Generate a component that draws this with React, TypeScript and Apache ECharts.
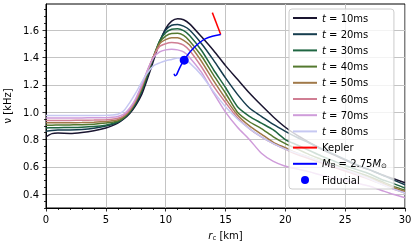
import React, { useEffect, useRef } from 'react';
import * as echarts from 'echarts';

const FONT = 'DejaVu Sans';

// radius grid (km) shared by the time snapshots
const R = [0, 0.5, 1, 2, 3, 4, 5, 5.5, 6, 6.5, 7, 7.5, 8, 8.5, 9, 9.5, 10, 10.5, 11, 11.5, 12, 13, 14, 15, 16, 17, 18, 19, 20, 21, 22, 23, 24, 25, 26, 27, 28, 29, 30];

const T10 = [0.82, 0.843, 0.847, 0.845, 0.852, 0.865, 0.885, 0.9, 0.92, 0.95, 0.99, 1.05, 1.13, 1.25, 1.38, 1.51, 1.61, 1.665, 1.683, 1.675, 1.645, 1.55, 1.45, 1.34, 1.24, 1.14, 1.05, 0.965, 0.89, 0.83, 0.78, 0.73, 0.69, 0.65, 0.61, 0.58, 0.545, 0.515, 0.485];
const T20 = [0.86, 0.866, 0.869, 0.87, 0.874, 0.883, 0.898, 0.91, 0.925, 0.955, 1.0, 1.06, 1.15, 1.27, 1.4, 1.52, 1.6, 1.635, 1.641, 1.628, 1.6, 1.5, 1.38, 1.25, 1.13, 1.03, 0.97, 0.91, 0.86, 0.815, 0.775, 0.735, 0.695, 0.655, 0.615, 0.58, 0.545, 0.505, 0.47];
const T30 = [0.885, 0.886, 0.887, 0.888, 0.89, 0.895, 0.905, 0.915, 0.93, 0.96, 1.0, 1.07, 1.16, 1.28, 1.41, 1.52, 1.58, 1.605, 1.61, 1.595, 1.56, 1.45, 1.31, 1.18, 1.04, 0.97, 0.92, 0.87, 0.8, 0.76, 0.72, 0.68, 0.645, 0.61, 0.58, 0.55, 0.51, 0.48, 0.445];
const T40 = [0.905, 0.905, 0.906, 0.907, 0.908, 0.912, 0.92, 0.927, 0.935, 0.96, 1.01, 1.08, 1.17, 1.29, 1.41, 1.51, 1.555, 1.575, 1.576, 1.56, 1.52, 1.41, 1.27, 1.14, 1.0, 0.93, 0.88, 0.82, 0.77, 0.73, 0.69, 0.655, 0.62, 0.59, 0.56, 0.53, 0.495, 0.46, 0.43];
const T50 = [0.922, 0.922, 0.923, 0.923, 0.924, 0.927, 0.932, 0.937, 0.945, 0.97, 1.01, 1.08, 1.18, 1.3, 1.41, 1.5, 1.53, 1.544, 1.543, 1.525, 1.49, 1.37, 1.23, 1.1, 0.98, 0.9, 0.84, 0.78, 0.74, 0.7, 0.67, 0.64, 0.61, 0.58, 0.55, 0.52, 0.485, 0.45, 0.42];
const T60 = [0.94, 0.94, 0.94, 0.94, 0.941, 0.942, 0.945, 0.948, 0.955, 0.975, 1.02, 1.09, 1.19, 1.31, 1.41, 1.48, 1.5, 1.508, 1.505, 1.49, 1.45, 1.33, 1.19, 1.07, 0.96, 0.88, 0.82, 0.77, 0.73, 0.69, 0.66, 0.63, 0.6, 0.57, 0.54, 0.51, 0.475, 0.44, 0.41];
const T70 = [0.958, 0.958, 0.958, 0.958, 0.958, 0.959, 0.96, 0.962, 0.968, 0.985, 1.03, 1.1, 1.2, 1.31, 1.4, 1.44, 1.455, 1.46, 1.455, 1.44, 1.4, 1.29, 1.14, 1.0, 0.89, 0.8, 0.7, 0.64, 0.605, 0.585, 0.565, 0.54, 0.52, 0.5, 0.48, 0.46, 0.43, 0.4, 0.375];
const T80 = [0.975, 0.975, 0.975, 0.975, 0.975, 0.976, 0.977, 0.979, 0.985, 1.01, 1.07, 1.14, 1.22, 1.29, 1.34, 1.36, 1.375, 1.385, 1.395, 1.39, 1.36, 1.27, 1.15, 1.04, 0.95, 0.88, 0.82, 0.77, 0.73, 0.7, 0.67, 0.64, 0.61, 0.58, 0.55, 0.515, 0.475, 0.44, 0.41];

const T_SERIES = [T10, T20, T30, T40, T50, T60, T70, T80];
const T_LABELS = ['t = 10ms', 't = 20ms', 't = 30ms', 't = 40ms', 't = 50ms', 't = 60ms', 't = 70ms', 't = 80ms'];
const T_COLORS = ['#1a1530', '#163d4e', '#1f6642', '#54792f', '#a07949', '#d07e93', '#cf9cda', '#c6c8f2'];

const KEPLER_R = [13.9, 14.6];
const KEPLER_V = [1.727, 1.568];

const MB_R = [10.7, 10.78, 10.9, 11.05, 11.3, 11.55, 11.9, 12.3, 12.8, 13.3, 13.9, 14.6];
const MB_V = [1.28, 1.266, 1.272, 1.3, 1.345, 1.38, 1.425, 1.465, 1.505, 1.535, 1.555, 1.568];

const FID_R = [11.55];
const FID_V = [1.38];

const Y_MAJOR = [0.4, 0.6, 0.8, 1.0, 1.2, 1.4, 1.6];
const Y_MINOR = [0.3, 0.35, 0.45, 0.5, 0.55, 0.65, 0.7, 0.75, 0.85, 0.9, 0.95, 1.05, 1.1, 1.15, 1.25, 1.3, 1.35, 1.45, 1.5, 1.55, 1.65, 1.7, 1.75];

const rich = {
  n: { fontSize: 10, fontFamily: FONT, color: '#000', lineHeight: 12 },
  i: { fontSize: 10, fontFamily: FONT, color: '#000', fontStyle: 'italic', lineHeight: 12 },
  sub: { fontSize: 7, fontFamily: FONT, color: '#000', lineHeight: 7, verticalAlign: 'bottom' },
};

function legendFmt(name: string): string {
  if (name.startsWith('t = ')) return '{i|t}{n| = ' + name.slice(4) + '}';
  if (name.startsWith('M')) return '{i|M}{sub|B}{n| = 2.75}{i|M}{sub|⊙}';
  return '{n|' + name + '}';
}

export default function App() {
  const ref = useRef<HTMLDivElement>(null);
  useEffect(() => {
    if (!ref.current) return;
    const chart = echarts.init(ref.current, undefined, { renderer: 'svg' });
    const lineSeries = T_SERIES.map((vals, k) => ({
      name: T_LABELS[k],
      type: 'line',
      data: R.map((r, i) => [r, vals[i]]),
      showSymbol: false,
      symbol: 'none',
      smooth: 0.25,
      lineStyle: { width: 1.5, color: T_COLORS[k] },
      itemStyle: { color: T_COLORS[k] },
      silent: true,
    }));
    const hideSym = { opacity: 0 };
    const option: any = {
      animation: false,
      textStyle: { fontFamily: FONT },
      grid: { left: 46, right: 10, top: 4, bottom: 43, show: true, borderColor: '#000', borderWidth: 1, backgroundColor: 'transparent', outerBoundsMode: 'none', containLabel: false },
      xAxis: {
        type: 'value', min: 0, max: 30, interval: 5,
        axisLine: { show: true, onZero: false, lineStyle: { color: '#000', width: 1 } },
        axisTick: { show: true, length: 3.5, lineStyle: { color: '#000', width: 0.8 } },
        minorTick: { show: true, splitNumber: 5, length: 2, lineStyle: { color: '#000', width: 0.8 } },
        axisLabel: { fontSize: 10, color: '#000', margin: 6, fontFamily: FONT },
        splitLine: { show: true, lineStyle: { color: '#c4c4c4', width: 1 } },
        name: '{i|r}{sub|c}{n| [km]}',
        nameLocation: 'middle', nameGap: 21,
        nameTextStyle: { rich },
      },
      yAxis: [
        {
          type: 'value', min: 0.3, max: 1.79,
          axisLine: { show: true, onZero: false, lineStyle: { color: '#000', width: 1 } },
          axisTick: { show: true, length: 2, customValues: Y_MINOR, lineStyle: { color: '#000', width: 0.8 } },
          axisLabel: { show: false },
          splitLine: { show: false },
        },
        {
          type: 'value', min: 0.3, max: 1.79, position: 'left',
          axisLine: { show: false },
          axisTick: { show: true, length: 3.5, customValues: Y_MAJOR, lineStyle: { color: '#000', width: 0.8 } },
          axisLabel: { show: true, customValues: Y_MAJOR, fontSize: 10, color: '#000', margin: 7, fontFamily: FONT, formatter: (v: number) => v.toFixed(1) },
          splitLine: { show: true, lineStyle: { color: '#c4c4c4', width: 1 } },
          name: 'ν [kHz]',
          nameLocation: 'middle', nameGap: 29,
          nameTextStyle: { fontSize: 10, color: '#000', fontFamily: FONT },
        },
      ],
      legend: {
        left: 289, top: 9, orient: 'vertical',
        itemWidth: 24, itemHeight: 10, itemGap: 4.2,
        padding: [3, 7, 3, 3],
        backgroundColor: 'rgba(255,255,255,0.8)', borderColor: '#cccccc', borderWidth: 1, borderRadius: 3,
        selectedMode: false,
        textStyle: { fontSize: 10, color: '#000', fontFamily: FONT, lineHeight: 12, rich },
        formatter: legendFmt,
        data: [
          ...T_LABELS.map((n) => ({ name: n, itemStyle: hideSym })),
          { name: 'Kepler', itemStyle: hideSym },
          { name: 'M_B = 2.75M⊙', itemStyle: hideSym },
          { name: 'Fiducial', icon: 'path://M-5,-5L-5,-5M5,5L5,5M4,0A4,4,0,1,1,-4,0A4,4,0,1,1,4,0Z', itemStyle: { color: '#0000ff', opacity: 1 } },
        ],
      },
      series: [
        ...lineSeries,
        {
          name: 'Kepler', type: 'line', data: KEPLER_R.map((r, i) => [r, KEPLER_V[i]]),
          showSymbol: false, symbol: 'none', lineStyle: { width: 1.5, color: '#ff0000' }, itemStyle: { color: '#ff0000' }, silent: true,
        },
        {
          name: 'M_B = 2.75M⊙', type: 'line', data: MB_R.map((r, i) => [r, MB_V[i]]),
          showSymbol: false, symbol: 'none', smooth: 0.3, lineStyle: { width: 1.5, color: '#0000ff' }, itemStyle: { color: '#0000ff' }, silent: true,
        },
        {
          name: 'Fiducial', type: 'scatter', data: FID_R.map((r, i) => [r, FID_V[i]]),
          symbolSize: 9, itemStyle: { color: '#0000ff', opacity: 1 }, silent: true, z: 5,
        },
      ],
    };
    chart.setOption(option);
    return () => chart.dispose();
  }, []);
  return <div ref={ref} style={{ position: 'fixed', left: 0, top: 0, width: 415, height: 251 }} />;
}
